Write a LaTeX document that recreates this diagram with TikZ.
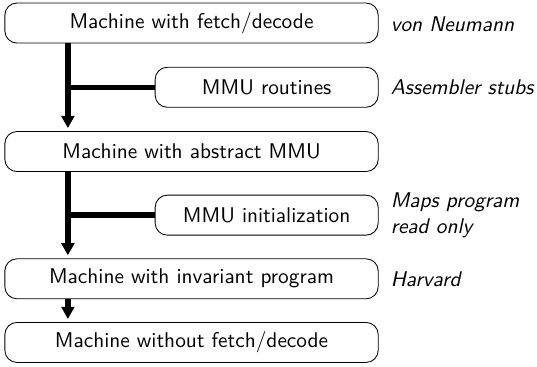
\documentclass[tikz,border=0pt]{standalone}
\usepackage{tikz}
\usetikzlibrary{arrows.meta}

\begin{document}
\begin{tikzpicture}[font=\sffamily]
\tikzset{
  stage/.style={draw,rectangle,rounded corners=0.2cm,minimum width=6.16cm,minimum height=0.66cm,inner sep=0pt},
  patch/.style={draw,rectangle,rounded corners=0.2cm,minimum width=3.68cm,minimum height=0.66cm,inner sep=0pt},
  note/.style={anchor=west,align=left,font=\sffamily\itshape,inner sep=0pt},
  flow/.style={-{Triangle[length=0.2cm,width=0.21cm]},line width=0.09cm,shorten >=0.05cm},
  feed/.style={line width=0.09cm}
}
\useasboundingbox (0,0) rectangle (8.86,-6.04);

\node[stage] (fetch) at (3.16,-0.38) {Machine with fetch/decode};
\node[patch] (rout) at (4.40,-1.44) {MMU routines};
\node[stage] (abst) at (3.16,-2.50) {Machine with abstract MMU};
\node[patch] (init) at (4.40,-3.55) {MMU initialization};
\node[stage] (inv) at (3.16,-4.60) {Machine with invariant program};
\node[stage] (nofetch) at (3.16,-5.65) {Machine without fetch/decode};

\coordinate (spine) at (1.12,0);

\node[note] (vn) at (6.44,-0.40) {von Neumann};
\node[note] (stubs) at (6.44,-1.44) {Assembler stubs};
\node[note] (maps) at (6.44,-3.55) {Maps program\\read only};
\node[note] (harv) at (6.44,-4.60) {Harvard};

\draw[flow] (fetch.south -| spine) -- (abst.north -| spine);
\draw[flow] (abst.south -| spine) -- (inv.north -| spine);
\draw[flow] (inv.south -| spine) -- (nofetch.north -| spine);
\draw[feed] (rout.west) -- (rout.west -| spine);
\draw[feed] (init.west) -- (init.west -| spine);
\end{tikzpicture}
\end{document}
